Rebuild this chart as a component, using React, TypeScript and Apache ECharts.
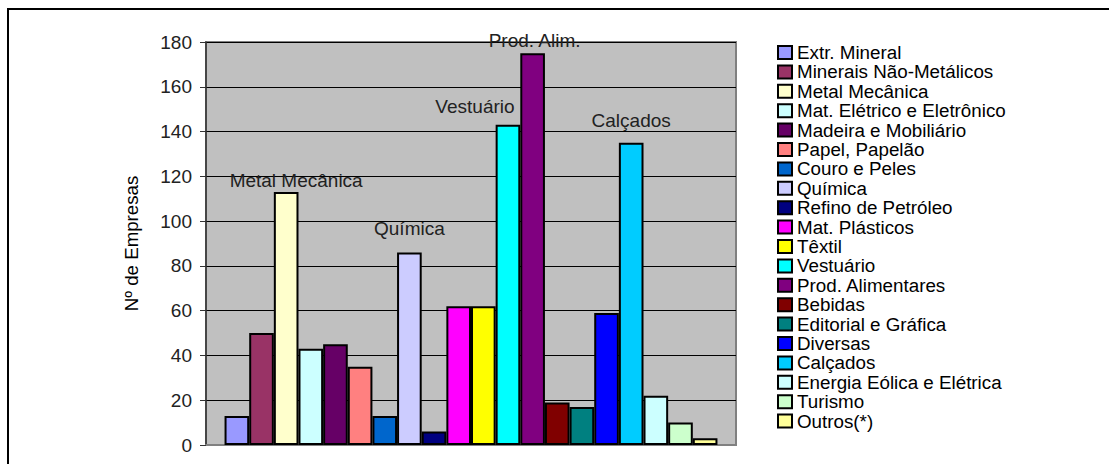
import React, { useEffect, useRef } from "react";
import * as echarts from "echarts";

const sectors = [
  "Extr. Mineral",
  "Minerais Não-Metálicos",
  "Metal Mecânica",
  "Mat. Elétrico e Eletrônico",
  "Madeira e Mobiliário",
  "Papel, Papelão",
  "Couro e Peles",
  "Química",
  "Refino de Petróleo",
  "Mat. Plásticos",
  "Têxtil",
  "Vestuário",
  "Prod. Alimentares",
  "Bebidas",
  "Editorial e Gráfica",
  "Diversas",
  "Calçados",
  "Energia Eólica e Elétrica",
  "Turismo",
  "Outros(*)",
];

const companies = [13, 50, 113, 43, 45, 35, 13, 86, 6, 62, 62, 143, 175, 19, 17, 59, 135, 22, 10, 3];

const colors = [
  "#9999FF", "#993366", "#FFFFCC", "#CCFFFF", "#660066", "#FF8080", "#0066CC",
  "#CCCCFF", "#000080", "#FF00FF", "#FFFF00", "#00FFFF", "#800080", "#800000",
  "#008080", "#0000FF", "#00CCFF", "#CCFFFF", "#CCFFCC", "#FFFF99",
];

const yTicks = { min: 0, max: 180, interval: 20 };

// annotation text placed above selected bars
const annotations: Record<string, { text: string; offset: number[] }> = {
  "Metal Mecânica": { text: "Metal Mecânica", offset: [10, 3] },
  "Química": { text: "Química", offset: [0, -9] },
  "Vestuário": { text: "Vestuário", offset: [-33, -4] },
  "Prod. Alimentares": { text: "Prod. Alim.", offset: [2, 2] },
  "Calçados": { text: "Calçados", offset: [0, -8] },
};

const FONT = "'Liberation Sans', Arial, sans-serif";

export default function App() {
  const ref = useRef<HTMLDivElement>(null);
  useEffect(() => {
    if (!ref.current) return;
    const chart = echarts.init(ref.current, null, { renderer: "svg" });
    const series = sectors.map((name, i) => {
      const ann = annotations[name];
      return {
        name,
        type: "bar",
        data: [companies[i]],
        barGap: "0%",
        barCategoryGap: "7%",
        itemStyle: { color: colors[i], borderColor: "#000", borderWidth: 2 },
        label: ann
          ? {
              show: true,
              position: "top",
              formatter: ann.text,
              offset: ann.offset,
              color: "#222",
              fontSize: 19,
              fontFamily: FONT,
            }
          : { show: false },
      };
    });
    chart.setOption({
      animation: false,
      textStyle: { fontFamily: FONT },
      graphic: [
        {
          type: "rect",
          shape: { x: 8, y: 9, width: 1200, height: 600 },
          style: { fill: "none", stroke: "#000", lineWidth: 2 },
          silent: true,
        },
      ],
      grid: {
        left: 206,
        top: 42,
        width: 530,
        height: 403,
        show: true,
        backgroundColor: "#C0C0C0",
        borderColor: "#808080",
        borderWidth: 2,
      },
      legend: {
        orient: "vertical",
        left: 777,
        top: 43,
        height: 420,
        padding: 0,
        itemWidth: 14,
        itemHeight: 13,
        itemGap: 0.4,
        icon: "rect",
        itemStyle: { borderColor: "#000", borderWidth: 2 },
        textStyle: { fontSize: 18.8, color: "#000", fontFamily: FONT },
        data: sectors,
      },
      xAxis: {
        type: "category",
        data: [""],
        axisLine: { lineStyle: { color: "#808080", width: 2 } },
        axisTick: { show: false },
        axisLabel: { show: false },
      },
      yAxis: {
        type: "value",
        min: yTicks.min,
        max: yTicks.max,
        interval: yTicks.interval,
        name: "Nº de Empresas",
        nameLocation: "middle",
        nameGap: 65,
        nameTextStyle: { fontSize: 18.7, color: "#000", fontFamily: FONT },
        axisLine: { show: true, lineStyle: { color: "#333", width: 1.5 } },
        axisTick: { show: true, length: 6, lineStyle: { color: "#333" } },
        axisLabel: { margin: 14, fontSize: 19, color: "#222", fontFamily: FONT },
        splitLine: { lineStyle: { color: "#000", width: 1 } },
      },
      series,
    });
    return () => chart.dispose();
  }, []);
  return (
    <div
      ref={ref}
      style={{ position: "absolute", left: 0, top: 0, width: 1109, height: 464, background: "#fff" }}
    />
  );
}
